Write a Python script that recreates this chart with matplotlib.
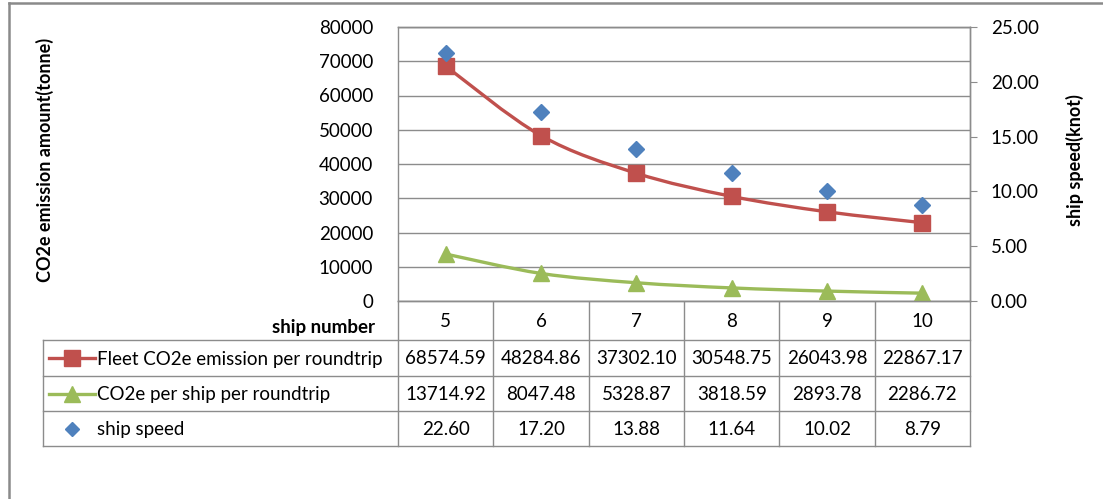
import numpy as np
import matplotlib
matplotlib.use("Agg")
import matplotlib.pyplot as plt
from matplotlib.path import Path
from matplotlib.patches import PathPatch
from matplotlib.lines import Line2D

plt.rcParams['font.family'] = ['Lato', 'DejaVu Sans']

# data
ship_number = ['5', '6', '7', '8', '9', '10']
fleet_co2 = [68574.59, 48284.86, 37302.10, 30548.75, 26043.98, 22867.17]
ship_co2 = [13714.92, 8047.48, 5328.87, 3818.59, 2893.78, 2286.72]
ship_speed = [22.60, 17.20, 13.88, 11.64, 10.02, 8.79]
series_names = ['Fleet CO2e emission per roundtrip',
                'CO2e per ship per roundtrip',
                'ship speed']
left_ticks = [0, 10000, 20000, 30000, 40000, 50000, 60000, 70000, 80000]
right_ticks = [0, 5, 10, 15, 20, 25]

RED = '#C0504D'
GREEN = '#9BBB59'
BLUE = '#4F81BD'
GRID = '#8C8C8C'
W, H = 1103, 499
FS = 13.5

fig = plt.figure(figsize=(W / 100, H / 100), dpi=100)

# plot area in pixels
px_l, px_r, px_t, px_b = 398, 970, 27, 301
ax = fig.add_axes([px_l / W, 1 - px_b / H, (px_r - px_l) / W, (px_b - px_t) / H])
ax2 = ax.twinx()


def smooth_path(xs, ys):
    # Catmull-Rom style bezier through the points (Excel "smoothed line")
    pts = np.column_stack([xs, ys]).astype(float)
    verts = [pts[0]]
    codes = [Path.MOVETO]
    n = len(pts)
    for i in range(n - 1):
        p0 = pts[i - 1] if i > 0 else pts[i]
        p1 = pts[i]
        p2 = pts[i + 1]
        p3 = pts[i + 2] if i + 2 < n else pts[i + 1]
        c1 = p1 + (p2 - p0) / 6.0
        c2 = p2 - (p3 - p1) / 6.0
        verts += [c1, c2, p2]
        codes += [Path.CURVE4] * 3
    return Path(verts, codes)


x = np.arange(len(ship_number))
ax.add_patch(PathPatch(smooth_path(x, fleet_co2), fill=False, edgecolor=RED, lw=2.4, zorder=3))
ax.add_patch(PathPatch(smooth_path(x, ship_co2), fill=False, edgecolor=GREEN, lw=2.4, zorder=3))
ax.plot(x, fleet_co2, ls='none', marker='s', ms=11, color=RED, zorder=4)
ax.plot(x, ship_co2, ls='none', marker='^', ms=12, color=GREEN, zorder=4)
ax2.plot(x, ship_speed, ls='none', marker='D', ms=8, color=BLUE, zorder=5)

ax.set_xlim(-0.5, len(ship_number) - 0.5)
ax.set_ylim(0, 80000)
ax2.set_ylim(0, 25)
ax.set_yticks(left_ticks)
ax.set_yticklabels([str(v) for v in left_ticks], fontsize=FS)
ax2.set_yticks(right_ticks)
ax2.set_yticklabels(['%.2f' % v for v in right_ticks], fontsize=FS)
ax.set_xticks([])
ax.grid(axis='y', color=GRID, lw=1)
ax.set_axisbelow(True)
ax.tick_params(axis='y', length=0, pad=18)
ax2.tick_params(axis='y', length=5, color=GRID, pad=10)
for a in (ax, ax2):
    for s in a.spines.values():
        s.set_color(GRID)
        s.set_linewidth(1)
ax2.spines['left'].set_visible(False)

fig.text(45 / W, 1 - 160 / H, 'CO2e emission amount(tonne)', rotation=90,
         ha='center', va='center', fontsize=13, fontweight='bold')
fig.text(1075 / W, 1 - 160 / H, 'ship speed(knot)', rotation=90,
         ha='center', va='center', fontsize=13, fontweight='bold')

# data table drawn in pixel coordinates underneath the plot
tab = fig.add_axes([0, 0, 1, 1], zorder=-1)
tab.set_xlim(0, W)
tab.set_ylim(H, 0)
tab.axis('off')

col_w = (px_r - px_l) / len(ship_number)
row_y = [px_b, 340, 376, 411, 446]
tab_left = 43

for i, label in enumerate(ship_number):
    cx = px_l + col_w * (i + 0.5)
    tab.text(cx, (row_y[0] + row_y[1]) / 2 + 1, label, ha='center', va='center', fontsize=FS)
tab.text(375, 327, 'ship number', ha='right', va='center', fontsize=FS, fontweight='bold')

rows = [['%.2f' % v for v in fleet_co2],
        ['%.2f' % v for v in ship_co2],
        ['%.2f' % v for v in ship_speed]]
for r, vals in enumerate(rows):
    cy = (row_y[r + 1] + row_y[r + 2]) / 2 + 1
    for i, v in enumerate(vals):
        cx = px_l + col_w * (i + 0.5)
        tab.text(cx, cy, v, ha='center', va='center', fontsize=FS)
    tab.text(97, cy, series_names[r], ha='left', va='center', fontsize=FS)

# legend keys
key_y = [(row_y[k + 1] + row_y[k + 2]) / 2 for k in range(3)]
tab.add_line(Line2D([49, 95], [key_y[0]] * 2, color=RED, lw=2.4))
tab.plot([72], [key_y[0]], marker='s', ms=11, color=RED)
tab.add_line(Line2D([49, 95], [key_y[1]] * 2, color=GREEN, lw=2.4))
tab.plot([72], [key_y[1]], marker='^', ms=12, color=GREEN)
tab.plot([72], [key_y[2]], marker='D', ms=7, color=BLUE)

# table grid
for y in row_y[1:]:
    tab.add_line(Line2D([tab_left, px_r], [y, y], color=GRID, lw=1))
for i in range(len(ship_number) + 1):
    xx = px_l + col_w * i
    tab.add_line(Line2D([xx, xx], [row_y[0], row_y[-1]], color=GRID, lw=1))
tab.add_line(Line2D([tab_left, tab_left], [row_y[1], row_y[-1]], color=GRID, lw=1))

# outer chart border
tab.add_line(Line2D([9, W], [2.5, 2.5], color='#8A8A8A', lw=1.8))
tab.add_line(Line2D([9, 9], [2.5, H], color='#8A8A8A', lw=1.8))

fig.savefig('out.png', dpi=100)
